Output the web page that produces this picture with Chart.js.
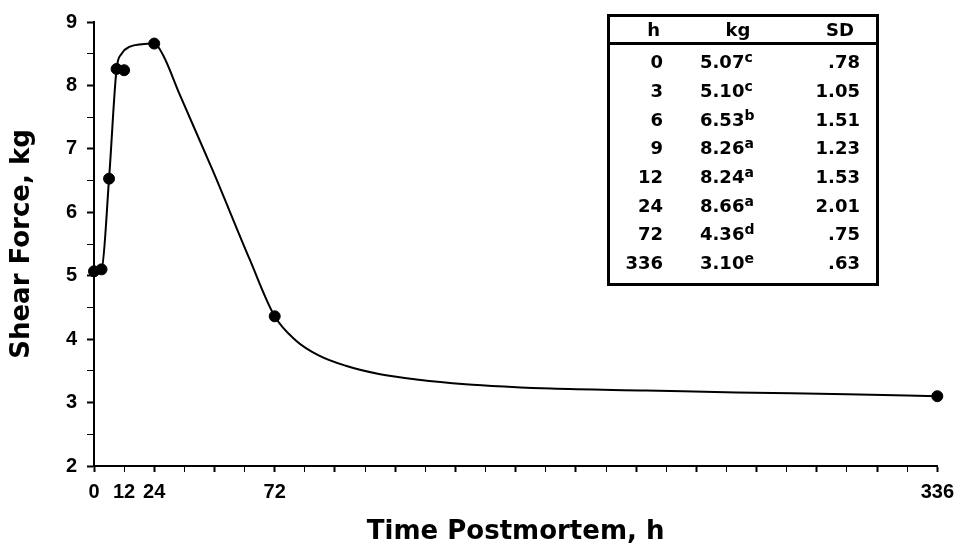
<!DOCTYPE html>
<html>
<head>
<meta charset="utf-8">
<script src="https://cdn.jsdelivr.net/npm/chart.js@4/dist/chart.umd.min.js"></script>
<style>
  html, body { margin: 0; padding: 0; background: #fff; }
  #marco { position: relative; width: 962px; height: 551px; }
  #tabla {
    position: absolute; left: 607px; top: 14px; width: 272px; height: 272px;
    box-sizing: border-box; border: 3px solid #000;
    font: bold 18px "DejaVu Sans", sans-serif; color: #000;
  }
  #tabla table { border-collapse: collapse; width: 266px; table-layout: fixed; }
  #tabla th { height: 25px; padding: 0; border-bottom: 3px solid #000; font-weight: bold; }
  #tabla td { height: 28.7px; padding: 0; line-height: 20px; white-space: nowrap; }
  #tabla tr.hueco td { height: 3px; }
  #tabla sup { font-size: 14px; vertical-align: 6px; line-height: 0; }
</style>
</head>
<body>
<div id="marco">
  <canvas id="graficoTerneza" width="962" height="551"></canvas>
  <div id="tabla"></div>
</div>
<script>
// Datos de la tabla (horas postmortem, fuerza de corte y desviación)
const horas = [0, 3, 6, 9, 12, 24, 72, 336];
const fuerzaKg = [5.07, 5.10, 6.53, 8.26, 8.24, 8.66, 4.36, 3.10];
const letras = ['c', 'c', 'b', 'a', 'a', 'a', 'd', 'e'];
const desviacion = ['.78', '1.05', '1.51', '1.23', '1.53', '2.01', '.75', '.63'];

// Curva ajustada
const curvaHoras = [0, 3, 6, 9, 11, 14.3, 19, 24, 27.5, 34, 47.3, 62, 72, 80.4, 89.7, 100.3, 113.5, 129.4, 148, 165, 182, 220, 256, 300, 336];
const curvaKg = [5.07, 5.10, 6.53, 8.26, 8.50, 8.61, 8.65, 8.66, 8.48, 7.87, 6.66, 5.26, 4.36, 3.98, 3.74, 3.58, 3.45, 3.36, 3.29, 3.25, 3.22, 3.19, 3.16, 3.13, 3.10];

// Marcas del eje X que llevan número
const etiquetasX = [0, 12, 24, 72, 336];

// Tabla de medias arriba a la derecha
function pintarTabla() {
    let html = '<table><colgroup><col style="width:60px"><col style="width:120px"><col style="width:86px"></colgroup>';
    html += '<tr><th style="text-align:right;padding-right:10px">h</th>'
          + '<th style="text-align:center;padding-left:16px">kg</th>'
          + '<th style="text-align:center;padding-left:14px">SD</th></tr>';
    html += '<tr class="hueco"><td></td><td></td><td></td></tr>';
    for (let i = 0; i < horas.length; i++) {
        html += '<tr><td style="text-align:right;padding-right:7px">' + horas[i] + '</td>'
              + '<td style="padding-left:30px">' + fuerzaKg[i].toFixed(2) + '<sup>' + letras[i] + '</sup></td>'
              + '<td style="text-align:right;padding-right:16px">' + desviacion[i] + '</td></tr>';
    }
    html += '</table>';
    document.getElementById('tabla').innerHTML = html;
}

function renderizarGrafico() {
    const ctx = document.getElementById('graficoTerneza').getContext('2d');
    const fuenteEje = { family: '"Liberation Sans", Arial, sans-serif', size: 20, weight: 'bold' };
    const fuenteTitulo = { family: '"DejaVu Sans", sans-serif', size: 26, weight: 'bold' };

    new Chart(ctx, {
        type: 'scatter',
        data: {
            datasets: [
                {
                    label: 'Media',
                    data: horas.map((h, i) => ({ x: h, y: fuerzaKg[i] })),
                    showLine: false,
                    pointRadius: 5.5,
                    pointBackgroundColor: '#000',
                    pointBorderColor: '#000',
                    clip: false,
                    order: 0
                },
                {
                    label: 'Curva',
                    data: curvaHoras.map((h, i) => ({ x: h, y: curvaKg[i] })),
                    showLine: true,
                    cubicInterpolationMode: 'monotone',
                    borderColor: '#000',
                    borderWidth: 2,
                    pointRadius: 0,
                    clip: false,
                    order: 1
                }
            ]
        },
        options: {
            responsive: false,
            animation: false,
            layout: { padding: { top: 20, right: 21, bottom: 0, left: 0 } },
            plugins: { legend: { display: false }, tooltip: { enabled: false } },
            scales: {
                x: {
                    type: 'linear',
                    min: 0,
                    max: 336,
                    afterFit: s => { s.height = 85; },
                    border: { display: true, color: '#000', width: 2 },
                    grid: {
                        drawOnChartArea: false,
                        drawTicks: true,
                        tickLength: 6,
                        tickColor: '#000',
                        tickWidth: c => (c.tick && c.tick.value % 24 === 0 ? 2 : 1)
                    },
                    ticks: {
                        stepSize: 12,
                        autoSkip: false,
                        maxRotation: 0,
                        padding: 8,
                        color: '#000',
                        font: fuenteEje,
                        callback: v => (etiquetasX.includes(v) ? String(v) : '')
                    },
                    title: {
                        display: true,
                        text: 'Time Postmortem, h',
                        color: '#000',
                        font: fuenteTitulo,
                        padding: { top: 0, bottom: 3 }
                    }
                },
                y: {
                    min: 2,
                    max: 9,
                    afterFit: s => { s.width = 94; },
                    border: { display: true, color: '#000', width: 2 },
                    grid: {
                        drawOnChartArea: false,
                        drawTicks: true,
                        tickLength: 7,
                        tickColor: '#000',
                        tickWidth: c => (c.tick && c.tick.value % 1 === 0 ? 2 : 1)
                    },
                    ticks: {
                        stepSize: 0.5,
                        autoSkip: false,
                        padding: 10,
                        color: '#000',
                        font: fuenteEje,
                        callback: v => (v % 1 === 0 ? String(v) : '')
                    },
                    title: {
                        display: true,
                        text: 'Shear Force, kg',
                        color: '#000',
                        font: fuenteTitulo,
                        padding: { top: 7, bottom: 0 }
                    }
                }
            }
        }
    });
}

pintarTabla();
renderizarGrafico();
</script>
</body>
</html>
